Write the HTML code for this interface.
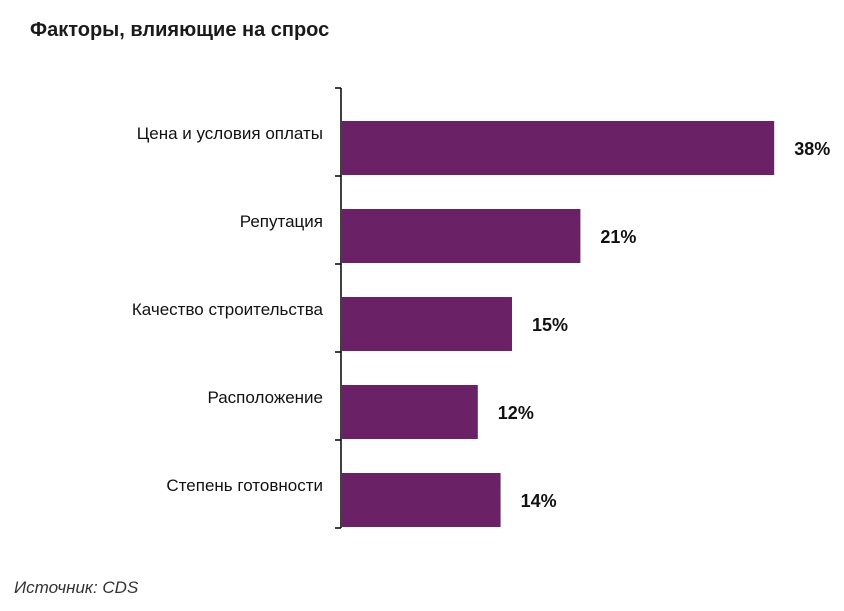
<!DOCTYPE html>
<html><head><meta charset="utf-8"><style>
body{margin:0;background:#fff;width:844px;height:606px;overflow:hidden;font-family:"Liberation Sans",sans-serif}
</style></head><body>
<svg width="844" height="606">
<text x="30" y="36" font-family="Liberation Sans, sans-serif" font-weight="bold" font-size="20" fill="#1a1a1a">Факторы, влияющие на спрос</text>
<g id="plot"></g>
<text x="14" y="593" font-family="Liberation Sans, sans-serif" font-style="italic" font-size="17" fill="#333">Источник: CDS</text>
</svg>
<script>
const categories=["Цена и условия оплаты","Репутация","Качество строительства","Расположение","Степень готовности"];
const values=[38,21,15,12,14];
const labels=["38%","21%","15%","12%","14%"];
const NS="http://www.w3.org/2000/svg";
const g=document.getElementById('plot');
const x0=341,y0=88,band=88,kx=11.4;
const xs=v=>x0+v*kx, ys=i=>y0+i*band;
function mk(t,a){const e=document.createElementNS(NS,t);for(const k in a)e.setAttribute(k,a[k]);g.appendChild(e);return e;}
const ax=mk('line',{x1:x0,y1:y0,x2:x0,y2:y0+band*categories.length,stroke:'#000','stroke-width':1.5});


for(let i=0;i<=categories.length;i++){
 const t=mk('line',{x1:x0-6,y1:ys(i),x2:x0,y2:ys(i),stroke:'#000','stroke-width':1.5});
 
 
}
categories.forEach((c,i)=>{
 const top=ys(i)+33;
 const r=mk('rect',{x:x0+1,y:top,width:xs(values[i])-x0-1,height:54,fill:'#6b2166'});
 
 
 const l=mk('text',{x:323,y:top+18,'text-anchor':'end','font-size':17,fill:'#111','font-family':'Liberation Sans, sans-serif'});
 l.textContent=c;
 
 
 const v=mk('text',{x:xs(values[i])+20,y:top+34,'font-size':18,'font-weight':'bold',fill:'#111','font-family':'Liberation Sans, sans-serif'});
 v.textContent=labels[i];
 
 
});
</script>
</body></html>
